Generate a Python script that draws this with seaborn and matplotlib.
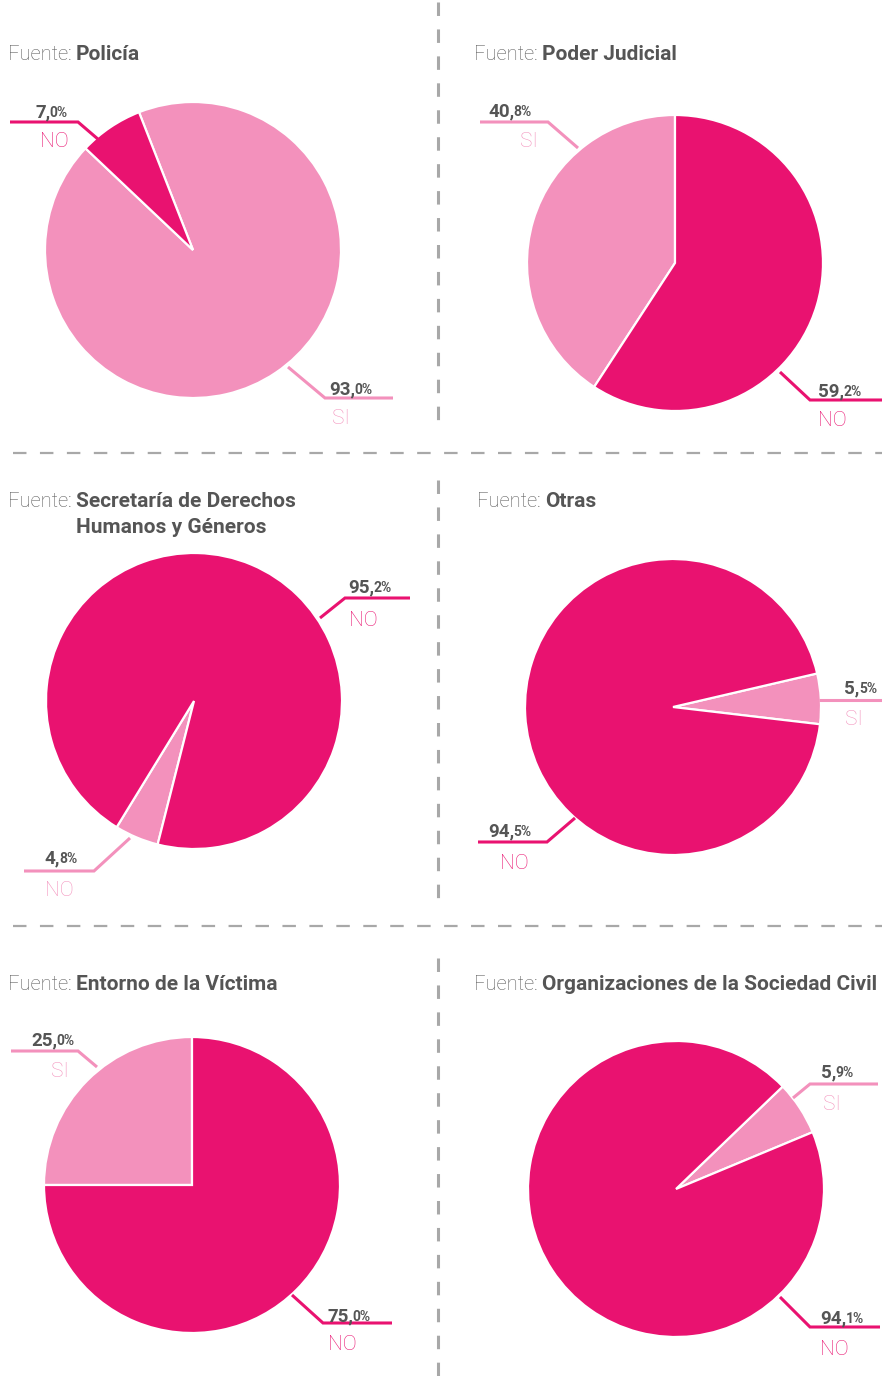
import matplotlib
matplotlib.use("Agg")
import matplotlib.pyplot as plt
import seaborn as sns

sns.set_theme(style="white")
plt.rcParams["font.family"] = ["Roboto", "DejaVu Sans"]
plt.rcParams["lines.scale_dashes"] = False

# ---- data -------------------------------------------------------------
sources = [
    "Policía",
    "Poder Judicial",
    "Secretaría de Derechos\nHumanos y Géneros",
    "Otras",
    "Entorno de la Víctima",
    "Organizaciones de la Sociedad Civil",
]
si_share = [93.0, 40.8, 4.8, 5.5, 25.0, 5.9]
no_share = [7.0, 59.2, 95.2, 94.5, 75.0, 94.1]
si_labels = ["SI", "SI", "NO", "SI", "SI", "SI"]
no_labels = ["NO", "NO", "NO", "NO", "NO", "NO"]

# ---- style ------------------------------------------------------------
LIGHT, DARK = sns.color_palette(["#F391BC", "#E91270"])
GREY_TXT = "#555555"
GREY_TITLE = "#5c5c5c"
GREY_RULE = "#a8a8a8"

W, H = 882, 1376
R = 148

# per panel layout (pixel coordinates, y measured from top)
layout = [
    dict(center=(193, 250), start=136.6, title=(8, 60),
         light=dict(line=[(288, 367), (325, 398), (393, 398)], num=(329, 394), cat=(332, 424)),
         dark=dict(line=[(99, 140), (78, 122), (10, 122)], num=(35, 117), cat=(40, 147))),
    dict(center=(675, 263), start=90.0, title=(474, 60),
         light=dict(line=[(578, 148), (548, 122), (480, 122)], num=(488, 116), cat=(520, 147)),
         dark=dict(line=[(780, 372), (810, 400), (882, 400)], num=(818, 396), cat=(818, 426))),
    dict(center=(194, 701), start=238.5, title=(8, 507),
         light=dict(line=[(130, 838), (94, 871), (24, 871)], num=(44, 863), cat=(45, 896)),
         dark=dict(line=[(320, 618), (345, 598), (410, 598)], num=(348, 592), cat=(349, 626))),
    dict(center=(673, 707), start=-6.7, title=(477, 507),
         light=dict(line=[(819, 700), (882, 700)], num=(844, 693), cat=(845, 725)),
         dark=dict(line=[(575, 818), (547, 842), (478, 842)], num=(488, 836), cat=(500, 869))),
    dict(center=(192, 1185), start=90.0, title=(8, 990),
         light=dict(line=[(97, 1067), (78, 1051), (11, 1051)], num=(31, 1045), cat=(51, 1077)),
         dark=dict(line=[(292, 1295), (323, 1323), (392, 1323)], num=(327, 1321), cat=(328, 1350))),
    dict(center=(676, 1189), start=22.6, title=(474, 990),
         light=dict(line=[(793, 1098), (810, 1084), (878, 1084)], num=(821, 1077), cat=(823, 1110)),
         dark=dict(line=[(780, 1297), (810, 1327), (880, 1327)], num=(820, 1323), cat=(820, 1355))),
]

fig = plt.figure(figsize=(W / 100, H / 100), dpi=100)
fig.patch.set_facecolor("white")
ax = fig.add_axes([0, 0, 1, 1])
renderer = fig.canvas.get_renderer()


def fy(y):
    return H - y


def reset_limits():
    ax.set_xlim(0, W)
    ax.set_ylim(0, H)


def right_edge(t):
    """Right edge of a text artist, in data units."""
    reset_limits()
    bb = t.get_window_extent(renderer)
    return ax.transData.inverted().transform((bb.x1, bb.y0))[0]


def percent_label(x, y, value):
    txt = f"{value:.1f}%".replace(".", ",")
    head, tail = txt.split(",")
    t1 = ax.text(x, fy(y), head + ",", fontsize=13.5, fontweight="bold",
                 color=GREY_TXT, va="baseline", ha="left")
    x2 = right_edge(t1)
    ax.text(x2 - 0.5, fy(y), tail, fontsize=10, fontweight="bold",
            color=GREY_TXT, va="baseline", ha="left")


for i, lay in enumerate(layout):
    cx, cy = lay["center"]
    ax.pie([si_share[i], no_share[i]], colors=[LIGHT, DARK],
           startangle=lay["start"], counterclock=True,
           center=(cx, fy(cy)), radius=R,
           wedgeprops=dict(edgecolor="white", linewidth=1.6))
    reset_limits()

    for key, val, lab, col in (("light", si_share[i], si_labels[i], LIGHT),
                               ("dark", no_share[i], no_labels[i], DARK)):
        spec = lay[key]
        xs = [p[0] for p in spec["line"]]
        ys = [fy(p[1]) for p in spec["line"]]
        ax.plot(xs, ys, color=col, lw=2.2, solid_capstyle="butt",
                solid_joinstyle="miter")
        percent_label(spec["num"][0], spec["num"][1], val)
        ax.text(spec["cat"][0], fy(spec["cat"][1]), lab, fontsize=15,
                fontweight="light", color=col, va="baseline", ha="left")

    # panel heading: light prefix + bold source name
    tx, ty = lay["title"]
    pre = ax.text(tx, fy(ty), "Fuente:", fontsize=14.5, fontweight="light",
                  color=GREY_TITLE, va="baseline", ha="left")
    bx = right_edge(pre) + 4
    name_lines = sources[i].split("\n")
    ax.text(bx, fy(ty), name_lines[0], fontsize=15, fontweight="bold",
            color=GREY_TXT, va="baseline", ha="left")
    for k, extra in enumerate(name_lines[1:], start=1):
        ax.text(bx, fy(ty + 26 * k), extra, fontsize=15, fontweight="bold",
                color=GREY_TXT, va="baseline", ha="left")

# dashed separators
dash = (0, (9.7, 9.7))
ax.plot([13, W], [fy(453), fy(453)], color=GREY_RULE, lw=1.6, linestyle=dash)
ax.plot([13, W], [fy(926), fy(926)], color=GREY_RULE, lw=1.6, linestyle=dash)
for y0, y1 in ((2, 430), (480, 900), (958, H)):
    ax.plot([437.5, 437.5], [fy(y0), fy(y1)], color=GREY_RULE, lw=2.2,
            linestyle=dash)

reset_limits()
ax.axis("off")

fig.savefig("out.png", dpi=100, facecolor="white")
